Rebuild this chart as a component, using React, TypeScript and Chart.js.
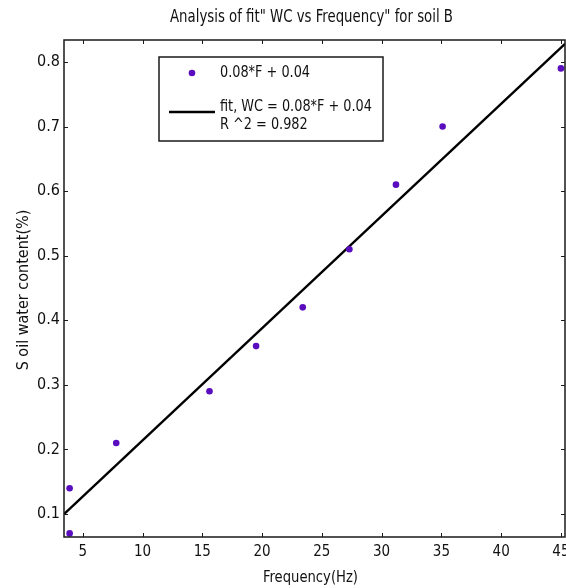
import React, { useEffect, useRef } from "react";
import { Chart, registerables } from "chart.js";

Chart.register(...registerables);

const titleText = 'Analysis of fit" WC vs Frequency" for soil B';
const xLabel = "Frequency(Hz)";
const yLabel = "S oil water content(%)";
const xTicks = [5, 10, 15, 20, 25, 30, 35, 40, 45];
const yTicks = [0.1, 0.2, 0.3, 0.4, 0.5, 0.6, 0.7, 0.8];
const freq = [3.9, 3.9, 7.8, 15.6, 19.5, 23.4, 27.3, 31.2, 35.1, 45];
const wc = [0.14, 0.07, 0.21, 0.29, 0.36, 0.42, 0.51, 0.61, 0.7, 0.79];
const fitX = [3.43, 45.34];
const fitY = [0.0997, 0.828];
const legendPoints = "0.08*F + 0.04";
const legendFit1 = "fit, WC = 0.08*F + 0.04";
const legendFit2 = "R ^2 = 0.982";

const FONT = '"DejaVu Sans Condensed", "Open Sans", sans-serif';
const PURPLE = "#5a0cbf";

function squeezeFactor(ctx: CanvasRenderingContext2D, text: string, size: number, width: number) {
  ctx.font = `${size}px ${FONT}`;
  return Math.min(1, width / ctx.measureText(text).width);
}

function drawSqueezed(
  ctx: CanvasRenderingContext2D,
  text: string,
  x: number,
  y: number,
  size: number,
  k: number,
  align: "left" | "center",
  rotate = false
) {
  ctx.save();
  ctx.font = `${size}px ${FONT}`;
  ctx.translate(x, y);
  if (rotate) ctx.rotate(-Math.PI / 2);
  ctx.scale(k, 1);
  ctx.textAlign = align;
  ctx.textBaseline = "middle";
  ctx.fillText(text, 0, 0);
  ctx.restore();
}

const framePlugin = {
  id: "frame",
  afterDraw(chart: any) {
    const { ctx, chartArea: a, scales } = chart;
    ctx.save();
    ctx.strokeStyle = "#1a1a1a";
    ctx.lineWidth = 1.5;
    ctx.strokeRect(a.left, a.top, a.right - a.left, a.bottom - a.top);
    ctx.lineWidth = 1;
    ctx.beginPath();
    const tl = 4;
    for (const v of xTicks) {
      const x = Math.round(scales.x.getPixelForValue(v)) + 0.5;
      ctx.moveTo(x, a.bottom);
      ctx.lineTo(x, a.bottom - tl);
      ctx.moveTo(x, a.top);
      ctx.lineTo(x, a.top + tl);
    }
    for (const v of yTicks) {
      const y = Math.round(scales.y.getPixelForValue(v)) + 0.5;
      ctx.moveTo(a.left, y);
      ctx.lineTo(a.left + tl, y);
      ctx.moveTo(a.right, y);
      ctx.lineTo(a.right - tl, y);
    }
    ctx.stroke();

    // x tick labels
    ctx.fillStyle = "#111";
    ctx.font = `15px ${FONT}`;
    ctx.textAlign = "center";
    ctx.textBaseline = "middle";
    for (const v of xTicks) {
      ctx.fillText(String(v), scales.x.getPixelForValue(v), a.bottom + 15);
    }

    // legend
    const lx = a.left + 95;
    const ly = a.top + 17;
    const lw = 224;
    const lh = 84;
    ctx.fillStyle = "#ffffff";
    ctx.fillRect(lx, ly, lw, lh);
    ctx.strokeStyle = "#1a1a1a";
    ctx.lineWidth = 1.5;
    ctx.strokeRect(lx, ly, lw, lh);
    ctx.fillStyle = PURPLE;
    ctx.beginPath();
    ctx.arc(lx + 33, ly + 16, 3.3, 0, Math.PI * 2);
    ctx.fill();
    ctx.strokeStyle = "#000";
    ctx.lineWidth = 2.5;
    ctx.beginPath();
    ctx.moveTo(lx + 10, ly + 55);
    ctx.lineTo(lx + 56, ly + 55);
    ctx.stroke();
    ctx.fillStyle = "#111";
    const kl = squeezeFactor(ctx, legendPoints, 16, 90);
    drawSqueezed(ctx, legendPoints, lx + 61, ly + 16, 16, kl, "left");
    drawSqueezed(ctx, legendFit1, lx + 61, ly + 50, 16, kl, "left");
    drawSqueezed(ctx, legendFit2, lx + 61, ly + 68, 16, kl, "left");

    // titles
    const cx = (a.left + a.right) / 2;
    drawSqueezed(ctx, titleText, cx - 3, 18, 17, squeezeFactor(ctx, titleText, 17, 283), "center");
    drawSqueezed(ctx, xLabel, cx - 4, 578, 16, squeezeFactor(ctx, xLabel, 16, 95), "center");
    drawSqueezed(ctx, yLabel, 24, 290, 16, squeezeFactor(ctx, yLabel, 16, 180), "center", true);
    ctx.restore();
  },
};

export default function App() {
  const ref = useRef<HTMLCanvasElement>(null);
  useEffect(() => {
    document.body.style.margin = "0";
    const chart = new Chart(ref.current as HTMLCanvasElement, {
      type: "scatter",
      data: {
        datasets: [
          {
            label: legendPoints,
            data: freq.map((f, i) => ({ x: f, y: wc[i] })),
            backgroundColor: PURPLE,
            borderColor: PURPLE,
            pointRadius: 3.3,
            pointBorderWidth: 0,
            showLine: false,
          },
          {
            label: "fit",
            data: fitX.map((f, i) => ({ x: f, y: fitY[i] })),
            showLine: true,
            borderColor: "#000",
            borderWidth: 2.4,
            pointRadius: 0,
          },
        ],
      },
      options: {
        responsive: false,
        animation: false,
        layout: { autoPadding: false, padding: { top: 40, right: 1, left: 0, bottom: 0 } },
        plugins: { legend: { display: false }, tooltip: { enabled: false }, title: { display: false } },
        scales: {
          x: {
            type: "linear",
            min: 3.43,
            max: 45.34,
            grid: { display: false, drawTicks: false },
            border: { display: false },
            afterBuildTicks: (s: any) => {
              s.ticks = xTicks.map((v) => ({ value: v }));
            },
            afterFit: (s: any) => {
              s.height = 51;
              s.paddingRight = 0;
              s.paddingLeft = 0;
            },
            ticks: { display: false },
          },
          y: {
            type: "linear",
            min: 0.0644,
            max: 0.834,
            grid: { display: false, drawTicks: false },
            border: { display: false },
            afterBuildTicks: (s: any) => {
              s.ticks = yTicks.map((v) => ({ value: v }));
            },
            afterFit: (s: any) => {
              s.width = 64;
              s.paddingTop = 0;
              s.paddingBottom = 0;
            },
            ticks: {
              padding: 4,
              color: "#111",
              font: { family: FONT, size: 16 },
              callback: (v: any) => String(Math.round(v * 10) / 10),
            },
          },
        },
      },
      plugins: [framePlugin],
    });
    return () => chart.destroy();
  }, []);
  return <canvas ref={ref} width={566} height={588} style={{ display: "block" }} />;
}
